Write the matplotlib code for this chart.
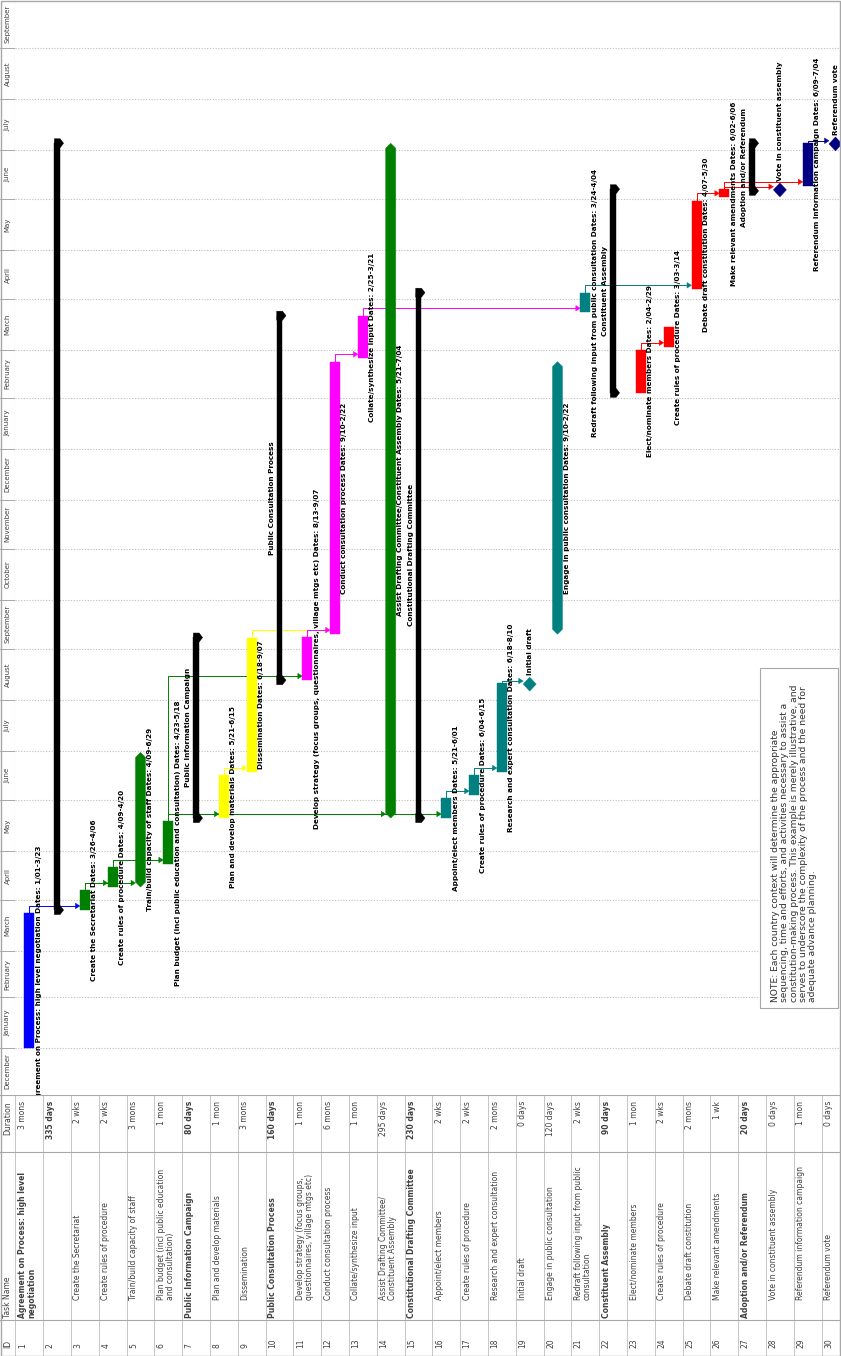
import datetime as dt
import matplotlib
matplotlib.use('Agg')
import matplotlib.pyplot as plt
import matplotlib.dates as mdates
from matplotlib.patches import Rectangle, Polygon

# ---- data -------------------------------------------------------------
task_ids = list(range(1, 31))
task_names = [
    "Agreement on Process: high level\nnegotiation",
    "",
    "Create the Secretariat",
    "Create rules of procedure",
    "Train/build capacity of staff",
    "Plan budget (incl public education\nand consultation)",
    "Public Information Campaign",
    "Plan and develop materials",
    "Dissemination",
    "Public Consultation Process",
    "Develop strategy (focus groups,\nquestionnaires, village mtgs etc)",
    "Conduct consultation process",
    "Collate/synthesize input",
    "Assist Drafting Committee/\nConstituent Assembly",
    "Constitutional Drafting Committee",
    "Appoint/elect members",
    "Create rules of procedure",
    "Research and expert consultation",
    "Initial draft",
    "Engage in public consultation",
    "Redraft following input from public\nconsultation",
    "Constituent Assembly",
    "Elect/nominate members",
    "Create rules of procedure",
    "Debate draft constitution",
    "Make relevant amendments",
    "Adoption and/or Referendum",
    "Vote in constituent assembly",
    "Referendum information campaign",
    "Referendum vote",
]
durations = ["3 mons", "335 days", "2 wks", "2 wks", "3 mons", "1 mon", "80 days",
             "1 mon", "3 mons", "160 days", "1 mon", "6 mons", "1 mon", "295 days",
             "230 days", "2 wks", "2 wks", "2 mons", "0 days", "120 days", "2 wks",
             "90 days", "1 mon", "2 wks", "2 mons", "1 wk", "20 days", "0 days",
             "1 mon", "0 days"]
starts = ["2007-01-01", "2007-03-26", "2007-03-26", "2007-04-09", "2007-04-09",
          "2007-04-23", "2007-05-21", "2007-05-21", "2007-06-18", "2007-08-13",
          "2007-08-13", "2007-09-10", "2008-02-25", "2007-05-21", "2007-05-21",
          "2007-05-21", "2007-06-04", "2007-06-18", "2007-08-10", "2007-09-10",
          "2008-03-24", "2008-02-04", "2008-02-04", "2008-03-03", "2008-04-07",
          "2008-06-02", "2008-06-06", "2008-06-06", "2008-06-09", "2008-07-04"]
finishes = ["2007-03-23", "2008-07-04", "2007-04-06", "2007-04-20", "2007-06-29",
            "2007-05-18", "2007-09-07", "2007-06-15", "2007-09-07", "2008-03-21",
            "2007-09-07", "2008-02-22", "2008-03-21", "2008-07-04", "2008-04-04",
            "2007-06-01", "2007-06-15", "2007-08-10", "2007-08-10", "2008-02-22",
            "2008-04-04", "2008-06-06", "2008-02-29", "2008-03-14", "2008-05-30",
            "2008-06-06", "2008-07-04", "2008-06-06", "2008-07-04", "2008-07-04"]
kinds = ["task", "summary", "task", "task", "hex", "task", "summary", "task", "task",
         "summary", "task", "task", "task", "hex", "summary", "task", "task", "task",
         "milestone", "hex", "task", "summary", "task", "task", "task", "task",
         "summary", "milestone", "task", "milestone"]
levels = [1, 1, 2, 2, 2, 2, 1, 2, 2, 1, 2, 2, 2, 2, 1, 2, 2, 2, 2, 2, 2, 1, 2, 2, 2, 2,
          1, 2, 2, 2]
bar_colors = ["#0000ff", "black", "#008000", "#008000", "#008000", "#008000", "black",
              "#ffff00", "#ffff00", "black", "#ff00ff", "#ff00ff", "#ff00ff", "#008000",
              "black", "#008080", "#008080", "#008080", "#008080", "#008080", "#008080",
              "black", "#ff0000", "#ff0000", "#ff0000", "#ff0000", "black", "#000080",
              "#000080", "#000080"]
links = [(1, 3), (3, 4), (3, 5), (4, 6), (6, 8), (6, 11), (6, 14), (6, 16), (8, 9),
         (9, 12), (11, 12), (12, 13), (13, 21), (16, 17), (17, 18), (18, 19),
         (21, 25), (23, 24), (25, 26), (26, 28), (26, 29), (29, 30)]
note_text = ("NOTE: Each country context will determine the appropriate\n"
             "sequencing, time and efforts, and activities necessary to assist a\n"
             "constitution-making process. This example is merely illustrative, and\n"
             "serves to underscore the complexity of the process and the need for\n"
             "adequate advance planning.")

# ---- layout (pixels) ----------------------------------------------------
W, H = 841, 1356
PX_DAY = 1.642          # pixels per day on the time axis
ROW_PX = 27.8           # pixels per task row
GANTT_BOTTOM = 1095     # pixel row where the table starts
HEAD = 15               # header strip width
ROW1_CENTER = 29.3

def pxr(p):
    return p / ROW_PX

def pxd(p):
    return p / PX_DAY

def dnum(s):
    return mdates.date2num(dt.datetime.strptime(s, "%Y-%m-%d"))

def short(s):
    d = dt.datetime.strptime(s, "%Y-%m-%d")
    return f"{d.month}/{d.day:02d}"

t_origin = mdates.date2num(dt.datetime(2007, 1, 1))
y_lo = t_origin - pxd(GANTT_BOTTOM - 1048)
y_hi = t_origin + pxd(1048)
x_lo = 1 - pxr(ROW1_CENTER - HEAD)
x_hi = x_lo + pxr(W - HEAD)

fig = plt.figure(figsize=(W / 100, H / 100), dpi=100)
fig.patch.set_facecolor('white')
gh = GANTT_BOTTOM / H

ax = fig.add_axes([HEAD / W, 1 - gh, 1 - HEAD / W, gh])
ax.set_xlim(x_lo, x_hi)
ax.set_ylim(y_lo, y_hi)
ax.axis('off')

mx = fig.add_axes([0, 1 - gh, HEAD / W, gh])
mx.set_xlim(0, 1)
mx.set_ylim(y_lo, y_hi)
mx.axis('off')

tx = fig.add_axes([0, 0, 1, 1 - gh])
tx.set_xlim(x_lo - pxr(HEAD), x_hi)
tx.set_ylim(H - GANTT_BOTTOM, 0)
tx.axis('off')

ov = fig.add_axes([0, 0, 1, 1], zorder=10)
ov.set_xlim(0, W)
ov.set_ylim(H, 0)
ov.axis('off')
ov.patch.set_alpha(0)

GRID = '#bdbdbd'
LINE = '#a8a8a8'
TXT = '#404040'

# ---- month scale + gridlines -------------------------------------------
month_edges = []
m = dt.datetime(2006, 12, 1)
while mdates.date2num(m) < y_hi + 40:
    month_edges.append(m)
    m = dt.datetime(m.year + (m.month == 12), m.month % 12 + 1, 1)
for a, b in zip(month_edges[:-1], month_edges[1:]):
    lo = max(mdates.date2num(a), y_lo)
    hi = min(mdates.date2num(b), y_hi)
    if hi - lo > 10:
        mx.text(0.5, (lo + hi) / 2, a.strftime('%B'), rotation=90, ha='center',
                va='center', fontsize=5.0, color=TXT)
    if y_lo < mdates.date2num(b) < y_hi:
        mx.plot([0, 1], [mdates.date2num(b)] * 2, color=LINE, lw=0.7)
        ax.plot([x_lo, x_hi], [mdates.date2num(b)] * 2, color=GRID, lw=0.8,
                ls=(0, (1, 1.5)), zorder=1)
mx.plot([1, 1], [y_lo, y_hi], color=LINE, lw=0.8)

# ---- bars -----------------------------------------------------------------
HW = pxr(5)       # half width of a task bar
SHW = pxr(2.8)    # half width of a summary bar
MHW = pxr(6.5)    # half width of a diamond
s_num = [dnum(s) for s in starts]
f_num = [dnum(f) + 1 for f in finishes]
LBL = dict(fontsize=5.2, fontweight='bold', color='black', rotation=90,
           rotation_mode='anchor', textcoords='offset points', clip_on=True)
renderer = fig.canvas.get_renderer()
ax_bottom_px = (1 - gh) * H

for i, r in enumerate(task_ids):
    s, f, kind, col = s_num[i], f_num[i], kinds[i], bar_colors[i]
    name = task_names[i].replace('/\n', '/').replace('\n', ' ')
    dates = f"Dates: {short(starts[i])}-{short(finishes[i])}"
    if kind == 'task':
        ax.add_patch(Rectangle((r - HW, s), 2 * HW, f - s, fc=col, ec=col, lw=0.3,
                               zorder=3))
    elif kind == 'hex':
        t = pxd(5)
        ax.add_patch(Polygon([(r - HW, s + t), (r, s), (r + HW, s + t), (r + HW, f - t),
                              (r, f), (r - HW, f - t)], closed=True, fc=col, ec=col,
                             lw=0.3, zorder=3))
    elif kind == 'summary':
        ax.add_patch(Rectangle((r - SHW, s), 2 * SHW, f - s, fc=col, ec=col, lw=0.3,
                               zorder=3))
        for e in (s, f):
            ax.add_patch(Polygon([(r - SHW, e - pxd(4.5)), (r + pxr(3), e - pxd(4.5)),
                                  (r + pxr(6.5), e), (r + pxr(3), e + pxd(4.5)),
                                  (r - SHW, e + pxd(4.5))], closed=True, fc=col,
                                 ec=col, lw=0.3, zorder=3))
    else:
        c = dnum(starts[i]) + 0.6
        ax.add_patch(Polygon([(r - MHW, c), (r, c + pxd(7)), (r + MHW, c),
                              (r, c - pxd(7))], closed=True, fc=col, ec=col, lw=0.3,
                             zorder=3))

    if kind in ('task', 'hex'):
        a = ax.annotate(f"{name} {dates}", xy=(r + HW, (s + f) / 2), xytext=(1.0, 0),
                        ha='center', va='top', zorder=4, **LBL)
        # labels that would start before the timescale are pushed up to its edge
        bb = a.get_window_extent(renderer)
        if bb.y0 < ax_bottom_px - 8:
            a.set_position((1.0, (ax_bottom_px - 8 - bb.y0) * 0.72))
    elif kind == 'summary' and name:
        ax.annotate(name, xy=(r - SHW, (s + f) / 2), xytext=(-1.4, 0),
                    ha='center', va='bottom', zorder=4, **LBL)
    elif kind == 'milestone':
        ax.annotate(name, xy=(r, dnum(starts[i]) + 0.6), xytext=(0, 6.5),
                    ha='left', va='center', zorder=4, **LBL)

# ---- dependency links ------------------------------------------------------
for p, q in links:
    ip, iq = p - 1, q - 1
    col = bar_colors[ip]
    y0 = f_num[ip]
    yt = s_num[iq] + 2.5
    xt = q - (MHW if kinds[iq] == 'milestone' else HW)
    ax.plot([p, p, xt - pxr(3)], [y0, yt, yt], color=col, lw=0.7, zorder=2)
    ax.add_patch(Polygon([(xt, yt), (xt - pxr(4.5), yt + pxd(2.8)),
                          (xt - pxr(4.5), yt - pxd(2.8))], closed=True, fc=col,
                         ec=col, lw=0.3, zorder=2))

# ---- table ---------------------------------------------------------------
COL_DUR, COL_NAME = 57, 225   # column boundaries below the gantt (pixels)
TH = H - GANTT_BOTTOM
for b in range(0, 31):
    tx.plot([b + 0.5, b + 0.5], [0, TH], color=GRID, lw=0.6)
for yb in (0, COL_DUR, COL_NAME):
    tx.plot([x_lo - pxr(HEAD), x_hi], [yb, yb], color=LINE, lw=0.8)

hx = x_lo - pxr(HEAD) + pxr(3)
TB = dict(rotation=90, rotation_mode='anchor', va='top', fontsize=5.5, color=TXT)
tx.text(hx, TH - 8, "ID", ha='left', **TB)
tx.text(hx, COL_NAME - 2, "Task Name", ha='left', **TB)
tx.text(hx, 6, "Duration", ha='right', **TB)
for i, r in enumerate(task_ids):
    x = r - 0.5 + pxr(2.5)
    bold = 'bold' if (kinds[i] == 'summary' or r == 1) else 'normal'
    tx.text(x, TH - 8, str(r), ha='left', **TB)
    tx.text(x, COL_NAME - 2 - (18 if levels[i] == 2 else 0), task_names[i],
            ha='left', fontweight=bold, linespacing=1.0, **TB)
    tx.text(x, 6, durations[i], ha='right',
            fontweight='bold' if kinds[i] == 'summary' else 'normal', **TB)

# ---- note box + outer frame -----------------------------------------------------
ov.add_patch(Rectangle((760, 668), 78, 340, fc='white', ec=LINE, lw=0.8))
ov.text(771, 1002, note_text, rotation=90, rotation_mode='anchor', ha='left',
        va='top', fontsize=6.6, color='#303030', linespacing=1.05)
ov.add_patch(Rectangle((0.5, 0.5), W - 1, H - 1, fc='none', ec=LINE, lw=1.0))

fig.savefig('out.png', dpi=100, facecolor='white')
